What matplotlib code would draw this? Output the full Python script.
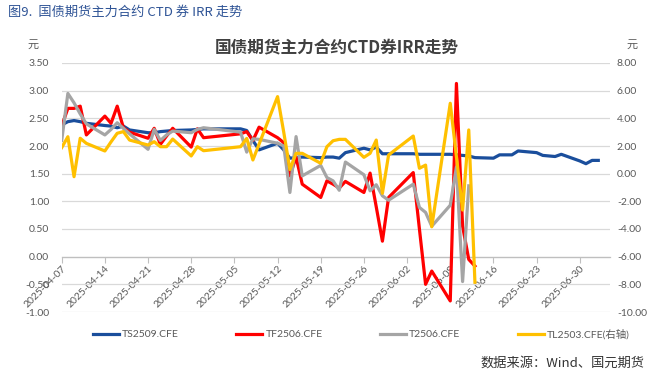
import matplotlib
matplotlib.use("Agg")
import matplotlib.pyplot as plt
import matplotlib.dates as mdates
import pandas as pd
import numpy as np

plt.rcParams['font.family'] = ['Lato', 'Noto Sans CJK SC', 'DejaVu Sans']
plt.rcParams['axes.unicode_minus'] = False

dates = ["2025-04-07", "2025-04-08", "2025-04-09", "2025-04-10", "2025-04-11",
         "2025-04-14", "2025-04-15", "2025-04-16", "2025-04-17", "2025-04-18",
         "2025-04-21", "2025-04-22", "2025-04-23", "2025-04-24", "2025-04-25",
         "2025-04-28", "2025-04-29", "2025-04-30",
         "2025-05-06", "2025-05-07", "2025-05-08", "2025-05-09",
         "2025-05-12", "2025-05-13", "2025-05-14", "2025-05-15", "2025-05-16",
         "2025-05-19", "2025-05-20", "2025-05-21", "2025-05-22", "2025-05-23",
         "2025-05-26", "2025-05-27", "2025-05-28", "2025-05-29", "2025-05-30",
         "2025-06-03", "2025-06-04", "2025-06-05", "2025-06-06",
         "2025-06-09", "2025-06-10", "2025-06-11", "2025-06-12", "2025-06-13",
         "2025-06-16", "2025-06-17", "2025-06-18", "2025-06-19", "2025-06-20",
         "2025-06-23", "2025-06-24", "2025-06-25", "2025-06-26", "2025-06-27",
         "2025-06-30", "2025-07-01", "2025-07-02", "2025-07-03"]

ts2509 = [2.38, 2.44, 2.46, 2.44, 2.41,
          2.37, 2.36, 2.33, 2.36, 2.29,
          2.24, 2.24, 2.26, 2.27, 2.28,
          2.29, 2.30, 2.31,
          2.31, 2.28, 2.10, 1.93,
          2.05, 1.93, 1.78, 1.79, 1.80,
          1.79, 1.80, 1.80, 1.78, 1.88,
          1.96, 1.93, 1.98, 1.86, 1.86,
          1.86, 1.85, 1.85, 1.85,
          1.85, 1.84, 1.83, 1.82, 1.79,
          1.78, 1.84, 1.84, 1.84, 1.91,
          1.88, 1.83, 1.82, 1.81, 1.85,
          1.73, 1.68, 1.74, 1.74]

tf2506 = [2.36, 2.68, 2.68, 2.72, 2.20,
          2.54, 2.41, 2.72, 2.33, 2.25,
          2.14, 2.32, 2.03, 2.18, 2.32,
          1.98, 2.31, 2.15,
          2.22, 2.26, 2.10, 2.34,
          2.15, 2.06, 1.46, 1.80, 1.31,
          1.07, 1.37, 1.31, 1.24, 1.36,
          1.16, 1.51, 0.90, 0.28, 1.07,
          1.52, 0.50, -0.50, -0.26,
          -0.80, 3.13, 0.55, -0.05, -0.17]

t2506 = [2.10, 2.95, 2.78, 2.58, 2.40,
         2.20, 2.30, 2.42, 2.32, 2.22,
         1.94, 2.30, 2.10, 2.20, 2.27,
         2.24, 2.30, 2.33,
         2.25, 1.89, 2.13, 2.12,
         2.05, 2.00, 1.16, 2.17, 1.46,
         1.65, 1.43, 1.37, 1.20, 1.71,
         1.48, 1.19, 1.30, 1.10, 1.02,
         1.31, 0.89, 0.80, 0.55,
         0.93, 1.62, -0.45, 1.28]

tl2503 = [1.88, 2.67, -0.22, 2.56, 2.19,
          1.64, 2.30, 2.92, 3.04, 2.43,
          2.07, 2.31, 1.95, 1.95, 2.50,
          1.28, 1.95, 1.66,
          1.95, 2.55, 0.99, 2.13,
          5.57, 3.00, 0.30, 1.47, 1.47,
          0.75, 1.95, 2.38, 2.48, 2.48,
          1.18, 1.47, 2.43, -1.42, 1.35,
          2.72, 0.39, 0.62, -3.84,
          5.09, 1.23, -2.63, 3.16, -7.85]

left_ticks = [3.5, 3.0, 2.5, 2.0, 1.5, 1.0, 0.5, 0.0, -0.5, -1.0]
right_ticks = [8, 6, 4, 2, 0, -2, -4, -6, -8, -10]

d = pd.to_datetime(dates)

W, H = 651, 377
fig = plt.figure(figsize=(W / 100, H / 100), dpi=100)
ax = fig.add_axes([61.7 / W, 1 - 312 / H, (610 - 61.7) / W, (312 - 63) / H])
ax2 = ax.twinx()

lw = 2.3
l1, = ax.plot(d, ts2509, color='#1A4E9C', lw=lw, label='TS2509.CFE', zorder=3)
l2, = ax.plot(d[:len(tf2506)], tf2506, color='#FF0000', lw=lw, label='TF2506.CFE', zorder=4)
l3, = ax.plot(d[:len(t2506)], t2506, color='#A5A5A5', lw=lw, label='T2506.CFE', zorder=5)
l4, = ax2.plot(d[:len(tl2503)], tl2503, color='#FFC000', lw=lw, label='TL2503.CFE(右轴)', zorder=3)

ax.set_ylim(-1.0, 3.5)
ax.set_yticks(left_ticks)
ax.yaxis.set_major_formatter(matplotlib.ticker.FormatStrFormatter('%.2f'))
ax2.set_ylim(-10, 8)
ax2.set_yticks(right_ticks)
ax2.yaxis.set_major_formatter(matplotlib.ticker.FormatStrFormatter('%.2f'))

x0 = pd.Timestamp("2025-04-07")
ax.set_xlim(x0, x0 + pd.Timedelta(days=88.9))
ax.xaxis.set_major_locator(mdates.WeekdayLocator(byweekday=mdates.MO))
ax.xaxis.set_major_formatter(mdates.DateFormatter('%Y-%m-%d'))

ax.grid(axis='y', color='#D9D9D9', lw=0.9, zorder=0)
ax.set_axisbelow(True)
for a in (ax, ax2):
    for s in ['top', 'right', 'left', 'bottom']:
        a.spines[s].set_visible(False)
ax.spines['bottom'].set_visible(True)
ax.spines['bottom'].set_position(('data', 0))
ax.spines['bottom'].set_color('#BFBFBF')
ax.spines['bottom'].set_linewidth(0.9)

ax.tick_params(axis='y', length=0, labelsize=7.5, labelcolor='#595959', pad=9)
ax2.tick_params(axis='y', length=0, labelsize=7.5, labelcolor='#595959', pad=5)
ax.tick_params(axis='x', direction='out', length=4, color='#BFBFBF',
               labelsize=7.5, labelcolor='#595959', pad=1)
for lab in ax.get_xticklabels():
    lab.set_rotation(45)
    lab.set_ha('right')
    lab.set_va('top')
    lab.set_rotation_mode('anchor')

fig.legend(handles=[l1, l2, l3, l4], loc='center left',
           bbox_to_anchor=(93 / W, 1 - 334 / H), ncol=4, frameon=False,
           fontsize=7.5, handlelength=2.5, handletextpad=0.3,
           columnspacing=5.5, borderpad=0, borderaxespad=0,
           labelcolor='#595959')

cjk = ['Noto Sans CJK SC', 'DejaVu Sans']
fig.text(8 / W, 1 - 12 / H, '图9.  国债期货主力合约 CTD 券 IRR 走势', family=cjk,
         fontsize=9.5, color='#2F5496', ha='left', va='center')
fig.text(337 / W, 1 - 47 / H, '国债期货主力合约CTD券IRR走势', family=cjk,
         fontsize=12, fontweight='bold', color='#404040', ha='center', va='center')
fig.text(33 / W, 1 - 45 / H, '元', family=cjk, fontsize=8, color='#595959',
         ha='center', va='center')
fig.text(632 / W, 1 - 45 / H, '元', family=cjk, fontsize=8, color='#595959',
         ha='center', va='center')
fig.text(645 / W, 1 - 363 / H, '数据来源：Wind、国元期货', family=cjk,
         fontsize=9.5, color='#333333', ha='right', va='center')

fig.savefig('out.png', dpi=100)
